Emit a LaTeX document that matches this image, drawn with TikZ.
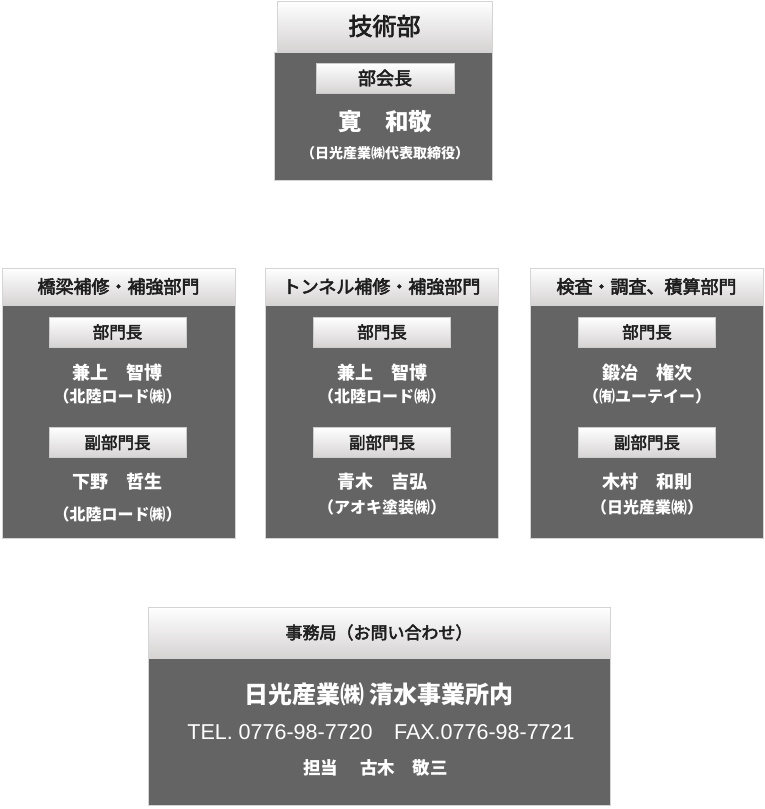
\documentclass[tikz,border=0pt]{standalone}
\usepackage{fontspec}
\setmainfont{Noto Sans CJK JP}
\newfontfamily\med[FakeBold=3]{Noto Sans CJK JP}
\newfontfamily\latin{Liberation Sans}
\definecolor{panel}{HTML}{646464}
\definecolor{rim}{HTML}{D4D4D4}
\definecolor{headbot}{HTML}{D6D3D3}
\definecolor{ink}{HTML}{1E1E1E}
\newcommand{\fs}[1]{\fontsize{#1}{#1}\selectfont}
\begin{document}
\begin{tikzpicture}[x=1pt, y=-1pt,
    head/.style={draw=rim, top color=white, bottom color=headbot, inner sep=0pt, text=ink},
    panelbox/.style={draw=rim, fill=panel, inner sep=0pt},
    tag/.style={draw=white!80!black, top color=white, bottom color=headbot, inner sep=0pt, text=ink, minimum width=137pt, minimum height=30pt, font=\med\fs{16.5}},
    who/.style={text=white, font=\bfseries\fs{18}},
    firm/.style={text=white, font=\bfseries\fs{16}}]
    \useasboundingbox (0,0) rectangle (765,809);
    % 技術部
    \node[panelbox, minimum width=218pt, minimum height=128pt] (bupanel) at (383,116) {};
    \node[head, minimum width=215pt, minimum height=50pt, font=\med\fs{24}] (bu) at (384.5,26) {技術部};
    \node[tag, minimum width=138pt, font=\med\fs{18}] (buchou) at (385,78) {部会長};
    \node[text=white, font=\bfseries\fs{23.5}] (buname) at (385,122) {寛　和敬};
    \node[text=white, font=\bfseries\fs{14}] (bufirm) at (385,153) {（日光産業㈱代表取締役）};
    % 橋梁補修・補強部門
    \node[panelbox, minimum width=233pt, minimum height=234pt] (kyopanel) at (118.5,421) {};
    \node[head, minimum width=233pt, minimum height=37pt, font=\med\fs{18}] (kyo) at (118.5,286.5) {橋梁補修・補強部門};
    \node[tag] (kyochou) at (117.5,332) {部門長};
    \node[who] (kyoname) at (117.5,373) {兼上　智博};
    \node[firm] (kyofirm) at (117.5,396) {（北陸ロード㈱）};
    \node[tag] (kyofuku) at (117.5,442.5) {副部門長};
    \node[who] (kyoname2) at (117.5,482) {下野　哲生};
    \node[firm] (kyofirm2) at (117.5,514) {（北陸ロード㈱）};
    % トンネル補修・補強部門
    \node[panelbox, minimum width=233pt, minimum height=234pt] (tunpanel) at (381.5,421) {};
    \node[head, minimum width=233pt, minimum height=37pt, font=\med\fs{18}] (tun) at (381.5,286.5) {トンネル補修・補強部門};
    \node[tag] (tunchou) at (382,332) {部門長};
    \node[who] (tunname) at (382,373) {兼上　智博};
    \node[firm] (tunfirm) at (382,396) {（北陸ロード㈱）};
    \node[tag] (tunfuku) at (382,442.5) {副部門長};
    \node[who] (tunname2) at (382,482) {青木　吉弘};
    \node[firm] (tunfirm2) at (382,507) {（アオキ塗装㈱）};
    % 検査・調査、積算部門
    \node[panelbox, minimum width=233pt, minimum height=234pt] (kenpanel) at (646.5,421) {};
    \node[head, minimum width=233pt, minimum height=37pt, font=\med\fs{18}] (ken) at (646.5,286.5) {検査・調査、積算部門};
    \node[tag] (kenchou) at (647,332) {部門長};
    \node[who] (kenname) at (647,373) {鍛冶　権次};
    \node[firm] (kenfirm) at (647,396) {（㈲ユーテイー）};
    \node[tag] (kenfuku) at (647,442.5) {副部門長};
    \node[who] (kenname2) at (647,482) {木村　和則};
    \node[firm] (kenfirm2) at (647,507) {（日光産業㈱）};
    % 事務局
    \node[panelbox, minimum width=462pt, minimum height=147pt] (jimpanel) at (379,731.5) {};
    \node[head, minimum width=462pt, minimum height=51pt, font=\med\fs{17}] (jim) at (379,632.5) {事務局（お問い合わせ）};
    \node[text=white, font=\bfseries\fs{24}] (jimname) at (379,694) {日光産業㈱ 清水事業所内};
    \node[text=white, font=\latin\fs{21.5}] (jimtel) at (381,732) {TEL. 0776-98-7720\quad FAX.0776-98-7721};
    \node[text=white, font=\bfseries\fs{17.5}] (jimtan) at (375.5,768) {担当　 古木　敬三};
\end{tikzpicture}
\end{document}
